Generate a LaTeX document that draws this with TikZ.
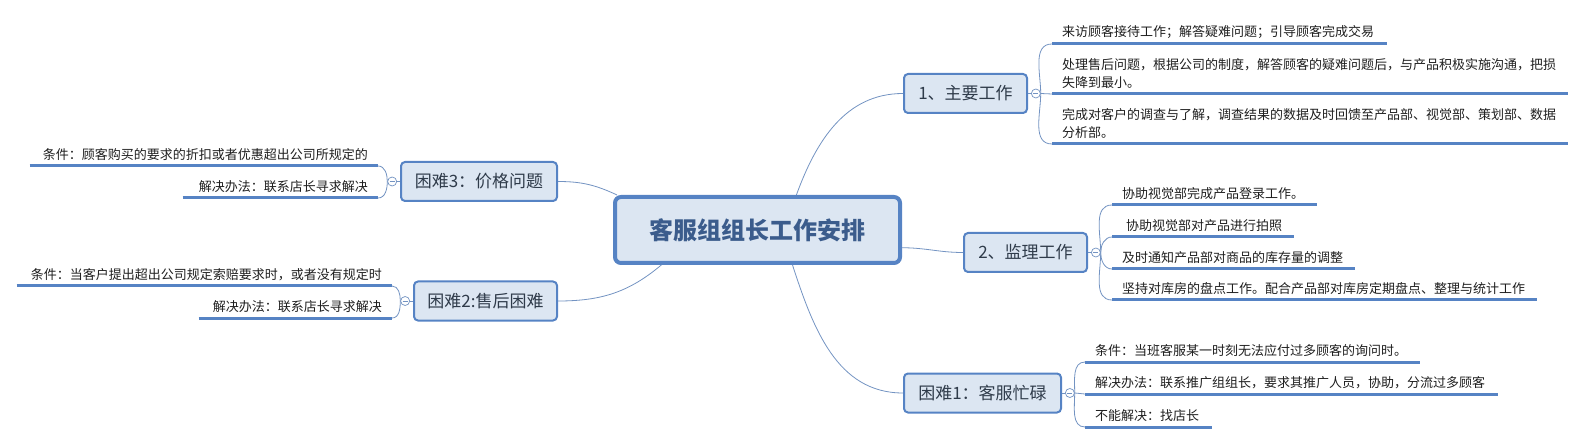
\documentclass[tikz,border=0pt]{standalone}
\usepackage{fontspec}
\setmainfont{Noto Sans CJK SC}
\usepackage{xcolor}
\usetikzlibrary{
	positioning,						% Relative positioning
	calc								% Calculate point coordinates
}
\definecolor{bordc}{HTML}{5683C4}
\definecolor{fillc}{HTML}{DCE6F2}
\definecolor{linkc}{HTML}{7393C2}
\definecolor{hubtext}{HTML}{3B5C8C}
\definecolor{topictext}{HTML}{2F3B4A}
\definecolor{leaftext}{HTML}{1E1E1E}

\begin{document}
\begin{tikzpicture}
		[
		,x=1pt, y=-1pt
		,hub/.style = {
			,draw=bordc
			,fill=fillc
			,line width=4pt
			,rounded corners=6pt
			,minimum width=285pt
			,minimum height=66pt
			,text=hubtext
			,font=\fontsize{24}{28}\selectfont\bfseries}
		,topic/.style = {
			,draw=bordc
			,fill=fillc
			,line width=2pt
			,rounded corners=4pt
			,minimum height=39pt
			,inner sep=0pt
			,text=topictext
			,font=\fontsize{17}{20}\selectfont}
		,fold/.style = {
			,circle
			,draw=linkc
			,fill=white
			,line width=0.7pt
			,minimum size=9pt
			,inner sep=0pt
			,path picture={\draw[linkc, line width=0.7pt]
				([xshift=-2.5pt]path picture bounding box.center) --
				([xshift=2.5pt]path picture bounding box.center);}}
		,uline/.style = {
			,draw=bordc
			,line width=3pt}
		,leaf/.style = {
			,anchor=south west
			,inner xsep=10pt
			,inner ysep=5pt
			,align=left
			,text=leaftext
			,font=\fontsize{13}{18.5}\selectfont
			,append after command={(\tikzlastnode.south west) edge[uline] (\tikzlastnode.south east)}}
		,leafl/.style = {
			,leaf
			,anchor=south east
			,align=right}
		,link/.style = {
			,draw=linkc
			,line width=0.8pt}
		]
		\useasboundingbox (0,0) rectangle (1586,443);
		
		% Central topic
		\node [hub] (hub) at (757.5,230) {客服组组长工作安排};
		
		% Main topics
		\node [topic, minimum width=123pt] (work)  at (965.5,93.5) {1、主要工作};
		\node [topic, minimum width=123pt] (watch) at (1025.5,252.5) {2、监理工作};
		\node [topic, minimum width=157pt] (diff1) at (982.5,393) {困难1：客服忙碌};
		\node [topic, minimum width=156pt] (diff3) at (479,181.5) {困难3：价格问题};
		\node [topic, minimum width=143pt] (diff2) at (485.5,301) {困难2:售后困难};
		
		% Fold buttons
		\node [fold, right=3pt of work]  (fwork)  {};
		\node [fold, right=3pt of watch] (fwatch) {};
		\node [fold, right=3pt of diff1] (fdiff1) {};
		\node [fold, left=3pt of diff3]  (fdiff3) {};
		\node [fold, left=3pt of diff2]  (fdiff2) {};
		
		% Links from the central topic
		\draw [link] (hub.42)  to [out=70, in=180]   (work.west);
		\draw [link] (hub.-7)  to [out=0, in=180]    (watch.west);
		\draw [link] (hub.-45) to [out=-72, in=180]  (diff1.west);
		\draw [link] (hub.166) to [out=155, in=0]    (diff3.east);
		\draw [link] (hub.200) to [out=-140, in=0]   (diff2.east);
		
		% Leaves of 1、主要工作
		\node [leaf, text width=315pt] (w1) at (1052,44)  {来访顾客接待工作；解答疑难问题；引导顾客完成交易};
		\node [leaf, text width=496pt] (w2) at (1052,94)  {处理售后问题，根据公司的制度，解答顾客的疑难问题后，与产品积极实施沟通，把损\\失降到最小。};
		\node [leaf, text width=496pt] (w3) at (1052,144) {完成对客户的调查与了解，调查结果的数据及时回馈至产品部、视觉部、策划部、数据\\分析部。};
		
		% Leaves of 2、监理工作
		\node [leaf, text width=185pt] (s1) at (1112,205) {协助视觉部完成产品登录工作。};
		\node [leaf, text width=162pt] (s2) at (1112,237) {\hspace{4pt}协助视觉部对产品进行拍照};
		\node [leaf, text width=223pt] (s3) at (1112,269) {及时通知产品部对商品的库存量的调整};
		\node [leaf, text width=405pt] (s4) at (1112,300) {坚持对库房的盘点工作。配合产品部对库房定期盘点、整理与统计工作};
		
		% Leaves of 困难1
		\node [leaf, text width=315pt] (b1) at (1085,362) {条件：当班客服某一时刻无法应付过多顾客的询问时。};
		\node [leaf, text width=393pt] (b2) at (1085,394) {解决办法：联系推广组组长，要求其推广人员，协助，分流过多顾客};
		\node [leaf, text width=107pt] (b3) at (1085,427) {不能解决：找店长};
		
		% Leaves of 困难3 and 困难2
		\node [leafl, text width=328pt] (p1) at (378,166) {条件：顾客购买的要求的折扣或者优惠超出公司所规定的};
		\node [leafl, text width=175pt] (p2) at (378,198) {解决办法：联系店长寻求解决};
		\node [leafl, text width=355pt] (a1) at (392,286) {条件：当客户提出超出公司规定索赔要求时，或者没有规定时};
		\node [leafl, text width=173pt] (a2) at (392,318) {解决办法：联系店长寻求解决};
		
		% Links to the leaves
		\draw [link] (work) -- (fwork);
		\draw [link] (fwork.east) to [out=90, in=180]  (w1.south west);
		\draw [link] (fwork.east) --                   (w2.south west);
		\draw [link] (fwork.east) to [out=-90, in=180] (w3.south west);
		
		\draw [link] (watch) -- (fwatch);
		\draw [link] (fwatch.east) to [out=90, in=180]  (s1.south west);
		\draw [link] (fwatch.east) to [out=90, in=180]  (s2.south west);
		\draw [link] (fwatch.east) to [out=-90, in=180] (s3.south west);
		\draw [link] (fwatch.east) to [out=-90, in=180] (s4.south west);
		
		\draw [link] (diff1) -- (fdiff1);
		\draw [link] (fdiff1.east) to [out=90, in=180]  (b1.south west);
		\draw [link] (fdiff1.east) --                   (b2.south west);
		\draw [link] (fdiff1.east) to [out=-90, in=180] (b3.south west);
		
		\draw [link] (diff3) -- (fdiff3);
		\draw [link] (fdiff3.west) to [out=90, in=0]  (p1.south east);
		\draw [link] (fdiff3.west) to [out=-90, in=0] (p2.south east);
		
		\draw [link] (diff2) -- (fdiff2);
		\draw [link] (fdiff2.west) to [out=90, in=0]  (a1.south east);
		\draw [link] (fdiff2.west) to [out=-90, in=0] (a2.south east);
	\end{tikzpicture}
\end{document}
